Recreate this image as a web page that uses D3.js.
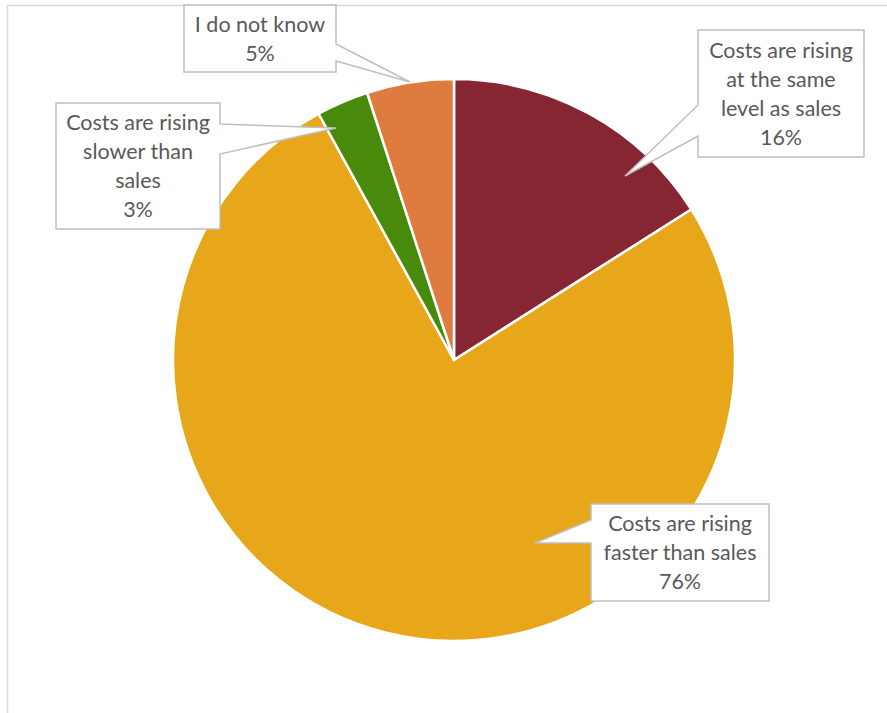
<!DOCTYPE html>
<html>
<head>
<meta charset="utf-8">
<script src="https://cdn.jsdelivr.net/npm/d3@7"></script>
<style>
  html, body { margin: 0; padding: 0; background: #fff; }
  svg { display: block; }
</style>
</head>
<body>
<svg id="chart" width="887" height="713"></svg>
<script>
// Survey answers: how costs are developing relative to sales
const categories = [
  "Costs are rising at the same level as sales",
  "Costs are rising faster than sales",
  "Costs are rising slower than sales",
  "I do not know"
];
const shares = [16, 76, 3, 5];
const labelLines = [
  ["Costs are rising", "at the same", "level as sales"],
  ["Costs are rising", "faster than sales"],
  ["Costs are rising", "slower than", "sales"],
  ["I do not know"]
];
const colors = ["#862633", "#E8A61A", "#478A0C", "#DF7B3F"];

// Callout geometry: box, side carrying the pointer, pointer base span, pointer tip
const callouts = [
  { x: 698, y: 30,  w: 166, h: 127, side: "left",  a: 105, b: 136, tip: [625, 176] },
  { x: 591, y: 504, w: 178, h: 97,  side: "left",  a: 520, b: 543, tip: [535, 543] },
  { x: 56,  y: 103, w: 164, h: 126, side: "right", a: 124, b: 154, tip: [336, 128] },
  { x: 184, y: 5,   w: 152, h: 67,  side: "right", a: 44,  b: 61,  tip: [410, 82] }
];

const svg = d3.select("#chart");
const W = 887, H = 713;

// chart area frame (continues past the right and bottom edges)
svg.append("rect")
  .attr("x", 7.5).attr("y", 5.5)
  .attr("width", W + 20).attr("height", H + 20)
  .attr("fill", "#fff")
  .attr("stroke", "#d9d9d9")
  .attr("stroke-width", 1.5);

const cx = 454, cy = 360, R = 281;

const pie = d3.pie().sort(null).value(d => d)
  .startAngle(0).endAngle(2 * Math.PI);
const arc = d3.arc().innerRadius(0).outerRadius(R);

const g = svg.append("g").attr("transform", `translate(${cx},${cy})`);
g.selectAll("path.slice")
  .data(pie(shares))
  .join("path")
  .attr("class", "slice")
  .attr("d", arc)
  .attr("fill", (d, i) => colors[i])
  .attr("stroke", "#fff")
  .attr("stroke-width", 2.5)
  .attr("stroke-linejoin", "round");

// callout outline: rectangle with a pointer wedge on one side
function calloutPath(c) {
  const x0 = c.x, y0 = c.y, x1 = c.x + c.w, y1 = c.y + c.h;
  const [tx, ty] = c.tip;
  const p = d3.path();
  if (c.side === "left") {
    p.moveTo(x0, y0);
    p.lineTo(x1, y0);
    p.lineTo(x1, y1);
    p.lineTo(x0, y1);
    p.lineTo(x0, c.b);
    p.lineTo(tx, ty);
    p.lineTo(x0, c.a);
    p.closePath();
  } else {
    p.moveTo(x0, y0);
    p.lineTo(x1, y0);
    p.lineTo(x1, c.a);
    p.lineTo(tx, ty);
    p.lineTo(x1, c.b);
    p.lineTo(x1, y1);
    p.lineTo(x0, y1);
    p.closePath();
  }
  return p.toString();
}

const fmt = v => `${v}%`;
const lineH = 29;

const labels = svg.selectAll("g.callout")
  .data(shares.map((v, i) => ({ v, i, lines: labelLines[i].concat(fmt(v)), c: callouts[i] })))
  .join("g")
  .attr("class", "callout");

labels.append("path")
  .attr("d", d => calloutPath(d.c))
  .attr("fill", "#fff")
  .attr("stroke", "#bfbfbf")
  .attr("stroke-width", 1.5)
  .attr("stroke-linejoin", "miter");

labels.each(function (d) {
  const n = d.lines.length;
  const midX = d.c.x + d.c.w / 2;
  const midY = d.c.y + d.c.h / 2;
  const t = d3.select(this).append("text")
    .attr("text-anchor", "middle")
    .attr("font-family", "Lato, 'Open Sans', sans-serif")
    .attr("font-size", 21.5)
    .attr("fill", "#595959");
  d.lines.forEach((s, k) => {
    t.append("tspan")
      .attr("x", midX)
      .attr("y", midY + (k - (n - 1) / 2) * lineH)
      .attr("dy", "0.35em")
      .text(s);
  });
});
</script>
</body>
</html>
